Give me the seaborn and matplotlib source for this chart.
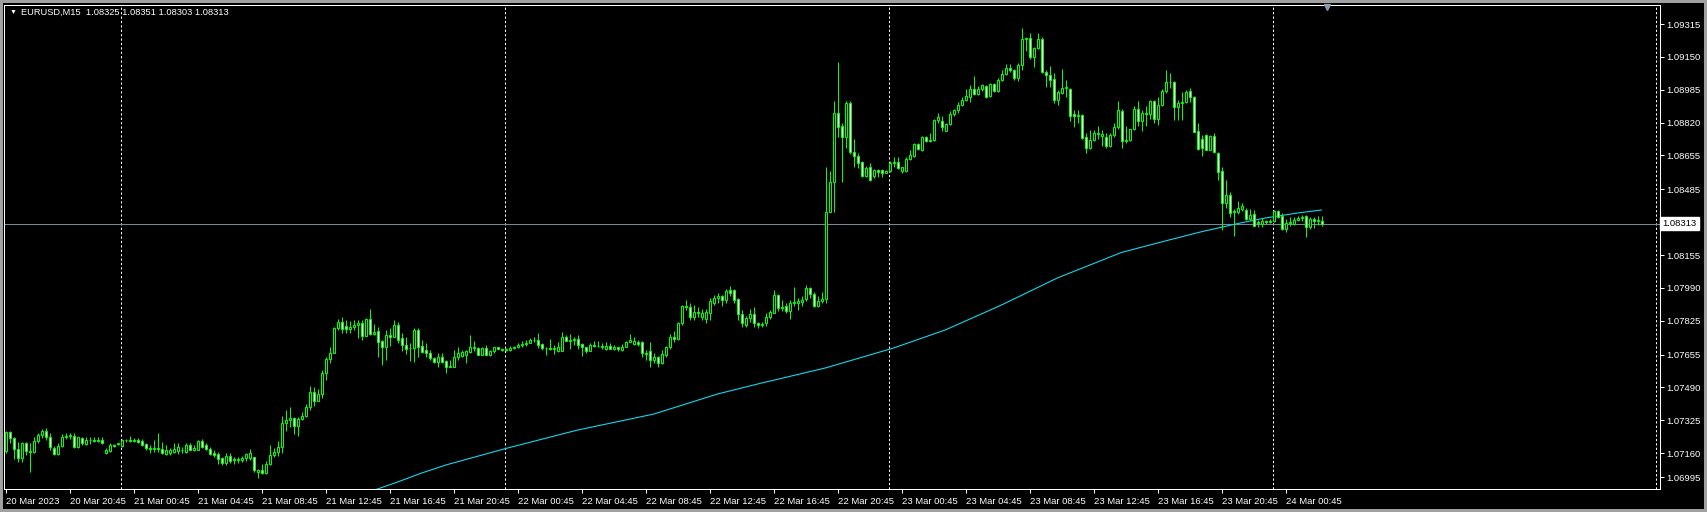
import numpy as np
import pandas as pd
import seaborn as sns
import matplotlib.pyplot as plt
from matplotlib import transforms

# EURUSD M15 bars, first bar = 20 Mar 2023 16:45
opens = [
    1.07172, 1.07267, 1.07234, 1.07183, 1.07138, 1.07209, 1.07172, 1.07167, 1.07220, 1.07250,
    1.07270, 1.07239, 1.07188, 1.07155, 1.07195, 1.07239, 1.07247, 1.07245, 1.07192, 1.07234,
    1.07205, 1.07228, 1.07225, 1.07222, 1.07226, 1.07162, 1.07172, 1.07200, 1.07205, 1.07197,
    1.07226, 1.07226, 1.07222, 1.07225, 1.07220, 1.07205, 1.07188, 1.07183, 1.07185, 1.07183,
    1.07155, 1.07162, 1.07167, 1.07172, 1.07178, 1.07167, 1.07200, 1.07178, 1.07178, 1.07222,
    1.07200, 1.07183, 1.07162, 1.07155, 1.07138, 1.07112, 1.07146, 1.07129, 1.07126, 1.07126,
    1.07136, 1.07136, 1.07139, 1.07066, 1.07073, 1.07060, 1.07106, 1.07151, 1.07168, 1.07193,
    1.07310, 1.07327, 1.07335, 1.07297, 1.07332, 1.07347, 1.07391, 1.07466, 1.07424, 1.07457,
    1.07565, 1.07632, 1.07665, 1.07787, 1.07817, 1.07799, 1.07784, 1.07792, 1.07806, 1.07816,
    1.07749, 1.07832, 1.07759, 1.07774, 1.07721, 1.07695, 1.07754, 1.07741, 1.07804, 1.07737,
    1.07704, 1.07687, 1.07687, 1.07779, 1.07698, 1.07678, 1.07662, 1.07637, 1.07620, 1.07645,
    1.07623, 1.07594, 1.07594, 1.07645, 1.07648, 1.07651, 1.07668, 1.07691, 1.07686, 1.07655,
    1.07686, 1.07651, 1.07671, 1.07691, 1.07685, 1.07678, 1.07678, 1.07688, 1.07695, 1.07703,
    1.07708, 1.07715, 1.07728, 1.07730, 1.07708, 1.07688, 1.07686, 1.07683, 1.07673, 1.07675,
    1.07742, 1.07725, 1.07730, 1.07735, 1.07708, 1.07692, 1.07675, 1.07703, 1.07698, 1.07698,
    1.07685, 1.07698, 1.07685, 1.07693, 1.07678, 1.07695, 1.07718, 1.07708, 1.07718, 1.07718,
    1.07661, 1.07671, 1.07628, 1.07645, 1.07614, 1.07651, 1.07691, 1.07745, 1.07735, 1.07812,
    1.07899, 1.07892, 1.07846, 1.07870, 1.07842, 1.07832, 1.07865, 1.07916, 1.07941, 1.07950,
    1.07930, 1.07979, 1.07979, 1.07935, 1.07860, 1.07805, 1.07839, 1.07860, 1.07815, 1.07805,
    1.07815, 1.07842, 1.07865, 1.07954, 1.07896, 1.07899, 1.07876, 1.07912, 1.07916, 1.07919,
    1.07933, 1.07988, 1.07959, 1.07901, 1.07924, 1.07933, 1.08373, 1.08520, 1.08870, 1.08803,
    1.08746, 1.08917, 1.08670, 1.08652, 1.08621, 1.08554, 1.08597, 1.08550, 1.08580, 1.08582,
    1.08569, 1.08576, 1.08619, 1.08624, 1.08578, 1.08578, 1.08636, 1.08653, 1.08712, 1.08683,
    1.08750, 1.08730, 1.08733, 1.08834, 1.08826, 1.08780, 1.08812, 1.08864, 1.08881, 1.08910,
    1.08934, 1.08951, 1.08990, 1.08965, 1.08990, 1.09005, 1.08955, 1.09015, 1.08978, 1.09035,
    1.09065, 1.09093, 1.09085, 1.09042, 1.09110, 1.09239, 1.09244, 1.09148, 1.09194, 1.09240,
    1.09075, 1.09058, 1.09038, 1.08931, 1.08968, 1.08993, 1.08989, 1.08862, 1.08851, 1.08857,
    1.08750, 1.08691, 1.08733, 1.08767, 1.08752, 1.08747, 1.08703, 1.08758, 1.08797, 1.08879,
    1.08730, 1.08735, 1.08787, 1.08887, 1.08830, 1.08867, 1.08864, 1.08926, 1.08837, 1.08909,
    1.08981, 1.09026, 1.09026, 1.08897, 1.08920, 1.08921, 1.08980, 1.08951, 1.08778, 1.08740,
    1.08757, 1.08683, 1.08753, 1.08666, 1.08578, 1.08415, 1.08454, 1.08378, 1.08371, 1.08386,
    1.08382, 1.08338, 1.08360, 1.08320, 1.08312, 1.08325, 1.08320, 1.08328, 1.08377, 1.08352,
    1.08285, 1.08318, 1.08312, 1.08331, 1.08342, 1.08350, 1.08298, 1.08335, 1.08326, 1.08325,
]
highs = [
    1.07270, 1.07270, 1.07242, 1.07217, 1.07217, 1.07217, 1.07209, 1.07239, 1.07259, 1.07279,
    1.07284, 1.07259, 1.07195, 1.07209, 1.07255, 1.07259, 1.07259, 1.07262, 1.07242, 1.07239,
    1.07239, 1.07239, 1.07242, 1.07239, 1.07239, 1.07184, 1.07209, 1.07205, 1.07212, 1.07230,
    1.07230, 1.07245, 1.07234, 1.07234, 1.07229, 1.07212, 1.07200, 1.07225, 1.07262, 1.07217,
    1.07200, 1.07188, 1.07209, 1.07209, 1.07192, 1.07209, 1.07209, 1.07200, 1.07225, 1.07229,
    1.07209, 1.07192, 1.07175, 1.07167, 1.07142, 1.07159, 1.07163, 1.07143, 1.07143, 1.07146,
    1.07163, 1.07183, 1.07143, 1.07079, 1.07106, 1.07123, 1.07201, 1.07186, 1.07223, 1.07347,
    1.07377, 1.07390, 1.07343, 1.07343, 1.07368, 1.07407, 1.07497, 1.07494, 1.07480, 1.07578,
    1.07645, 1.07695, 1.07792, 1.07834, 1.07845, 1.07829, 1.07822, 1.07829, 1.07829, 1.07829,
    1.07838, 1.07884, 1.07809, 1.07796, 1.07729, 1.07780, 1.07787, 1.07829, 1.07817, 1.07762,
    1.07745, 1.07712, 1.07787, 1.07787, 1.07729, 1.07712, 1.07678, 1.07645, 1.07662, 1.07662,
    1.07628, 1.07628, 1.07678, 1.07695, 1.07678, 1.07678, 1.07752, 1.07722, 1.07691, 1.07691,
    1.07705, 1.07678, 1.07695, 1.07695, 1.07688, 1.07688, 1.07698, 1.07698, 1.07712, 1.07722,
    1.07728, 1.07738, 1.07745, 1.07762, 1.07712, 1.07691, 1.07735, 1.07705, 1.07720, 1.07768,
    1.07755, 1.07760, 1.07745, 1.07752, 1.07712, 1.07695, 1.07712, 1.07725, 1.07725, 1.07712,
    1.07718, 1.07712, 1.07705, 1.07695, 1.07708, 1.07722, 1.07757, 1.07742, 1.07728, 1.07722,
    1.07678, 1.07718, 1.07661, 1.07648, 1.07678, 1.07700, 1.07760, 1.07775, 1.07820, 1.07905,
    1.07929, 1.07912, 1.07905, 1.07896, 1.07882, 1.07882, 1.07940, 1.07953, 1.07966, 1.07955,
    1.07983, 1.07999, 1.07983, 1.07941, 1.07879, 1.07850, 1.07882, 1.07896, 1.07820, 1.07820,
    1.07862, 1.07879, 1.07980, 1.07960, 1.07929, 1.07912, 1.07929, 1.07996, 1.07939, 1.07949,
    1.08003, 1.07996, 1.07971, 1.07949, 1.07971, 1.08599, 1.08576, 1.08927, 1.09125, 1.08817,
    1.08927, 1.08927, 1.08737, 1.08666, 1.08626, 1.08604, 1.08619, 1.08585, 1.08585, 1.08585,
    1.08580, 1.08626, 1.08646, 1.08646, 1.08599, 1.08646, 1.08683, 1.08717, 1.08717, 1.08755,
    1.08755, 1.08767, 1.08838, 1.08870, 1.08853, 1.08817, 1.08880, 1.08888, 1.08922, 1.08951,
    1.08989, 1.09011, 1.09055, 1.09003, 1.09015, 1.09011, 1.09021, 1.09018, 1.09042, 1.09085,
    1.09115, 1.09115, 1.09088, 1.09118, 1.09296, 1.09252, 1.09269, 1.09202, 1.09269, 1.09252,
    1.09085, 1.09105, 1.09068, 1.08985, 1.09088, 1.09035, 1.08993, 1.08885, 1.08884, 1.08862,
    1.08767, 1.08785, 1.08784, 1.08803, 1.08784, 1.08767, 1.08767, 1.08817, 1.08930, 1.08890,
    1.08801, 1.08790, 1.08904, 1.08927, 1.08884, 1.08901, 1.08934, 1.08934, 1.08947, 1.08988,
    1.09085, 1.09068, 1.09030, 1.08934, 1.08976, 1.08985, 1.08993, 1.08955, 1.08817, 1.08760,
    1.08762, 1.08757, 1.08767, 1.08672, 1.08596, 1.08533, 1.08469, 1.08386, 1.08424, 1.08415,
    1.08393, 1.08386, 1.08382, 1.08331, 1.08340, 1.08331, 1.08336, 1.08382, 1.08382, 1.08365,
    1.08336, 1.08348, 1.08348, 1.08353, 1.08357, 1.08357, 1.08348, 1.08348, 1.08353, 1.08351,
]
lows = [
    1.07160, 1.07209, 1.07133, 1.07117, 1.07117, 1.07150, 1.07066, 1.07159, 1.07209, 1.07234,
    1.07226, 1.07175, 1.07150, 1.07150, 1.07192, 1.07230, 1.07230, 1.07188, 1.07188, 1.07200,
    1.07200, 1.07205, 1.07217, 1.07217, 1.07205, 1.07155, 1.07167, 1.07192, 1.07203, 1.07192,
    1.07217, 1.07217, 1.07217, 1.07212, 1.07195, 1.07178, 1.07159, 1.07167, 1.07167, 1.07155,
    1.07150, 1.07150, 1.07159, 1.07155, 1.07159, 1.07162, 1.07175, 1.07172, 1.07175, 1.07188,
    1.07178, 1.07150, 1.07142, 1.07105, 1.07100, 1.07101, 1.07113, 1.07106, 1.07109, 1.07118,
    1.07120, 1.07126, 1.07063, 1.07036, 1.07053, 1.07056, 1.07100, 1.07143, 1.07146, 1.07160,
    1.07273, 1.07293, 1.07256, 1.07247, 1.07327, 1.07343, 1.07377, 1.07399, 1.07420, 1.07439,
    1.07528, 1.07611, 1.07662, 1.07779, 1.07762, 1.07762, 1.07762, 1.07776, 1.07736, 1.07726,
    1.07749, 1.07752, 1.07752, 1.07645, 1.07605, 1.07628, 1.07699, 1.07741, 1.07712, 1.07675,
    1.07658, 1.07622, 1.07618, 1.07645, 1.07662, 1.07645, 1.07628, 1.07612, 1.07595, 1.07612,
    1.07561, 1.07591, 1.07591, 1.07628, 1.07645, 1.07611, 1.07665, 1.07671, 1.07651, 1.07651,
    1.07651, 1.07648, 1.07665, 1.07681, 1.07671, 1.07671, 1.07675, 1.07683, 1.07688, 1.07691,
    1.07700, 1.07712, 1.07720, 1.07688, 1.07678, 1.07655, 1.07678, 1.07660, 1.07668, 1.07671,
    1.07721, 1.07685, 1.07705, 1.07685, 1.07650, 1.07661, 1.07671, 1.07691, 1.07691, 1.07681,
    1.07678, 1.07681, 1.07678, 1.07671, 1.07671, 1.07691, 1.07718, 1.07703, 1.07698, 1.07645,
    1.07628, 1.07595, 1.07611, 1.07591, 1.07608, 1.07645, 1.07685, 1.07720, 1.07730, 1.07805,
    1.07879, 1.07829, 1.07829, 1.07846, 1.07829, 1.07815, 1.07829, 1.07905, 1.07912, 1.07899,
    1.07912, 1.07950, 1.07916, 1.07829, 1.07794, 1.07795, 1.07820, 1.07795, 1.07790, 1.07795,
    1.07800, 1.07835, 1.07862, 1.07876, 1.07876, 1.07866, 1.07832, 1.07899, 1.07879, 1.07899,
    1.07924, 1.07941, 1.07892, 1.07892, 1.07912, 1.07916, 1.08373, 1.08373, 1.08750, 1.08524,
    1.08692, 1.08662, 1.08599, 1.08592, 1.08549, 1.08549, 1.08529, 1.08544, 1.08547, 1.08547,
    1.08565, 1.08572, 1.08599, 1.08589, 1.08566, 1.08572, 1.08633, 1.08646, 1.08681, 1.08676,
    1.08722, 1.08722, 1.08728, 1.08820, 1.08780, 1.08776, 1.08809, 1.08853, 1.08867, 1.08901,
    1.08929, 1.08925, 1.08960, 1.08960, 1.08981, 1.08944, 1.08948, 1.08975, 1.08975, 1.09028,
    1.09058, 1.09075, 1.09035, 1.09028, 1.09085, 1.09178, 1.09140, 1.09098, 1.09190, 1.09068,
    1.09001, 1.09001, 1.08918, 1.08906, 1.08965, 1.08951, 1.08826, 1.08800, 1.08820, 1.08740,
    1.08666, 1.08686, 1.08730, 1.08740, 1.08700, 1.08693, 1.08696, 1.08747, 1.08790, 1.08690,
    1.08720, 1.08728, 1.08785, 1.08804, 1.08776, 1.08801, 1.08837, 1.08817, 1.08810, 1.08901,
    1.08968, 1.08995, 1.08834, 1.08834, 1.08834, 1.08917, 1.08921, 1.08775, 1.08680, 1.08650,
    1.08680, 1.08680, 1.08666, 1.08534, 1.08281, 1.08390, 1.08348, 1.08248, 1.08360, 1.08378,
    1.08331, 1.08331, 1.08300, 1.08298, 1.08298, 1.08312, 1.08315, 1.08323, 1.08343, 1.08282,
    1.08270, 1.08303, 1.08306, 1.08326, 1.08328, 1.08243, 1.08285, 1.08293, 1.08306, 1.08303,
]
closes = [
    1.07267, 1.07234, 1.07183, 1.07138, 1.07209, 1.07172, 1.07167, 1.07220, 1.07250, 1.07270,
    1.07239, 1.07192, 1.07155, 1.07195, 1.07239, 1.07247, 1.07250, 1.07192, 1.07239, 1.07209,
    1.07228, 1.07225, 1.07222, 1.07226, 1.07209, 1.07175, 1.07200, 1.07197, 1.07209, 1.07226,
    1.07226, 1.07222, 1.07225, 1.07217, 1.07200, 1.07188, 1.07183, 1.07185, 1.07182, 1.07159,
    1.07175, 1.07178, 1.07183, 1.07192, 1.07175, 1.07200, 1.07178, 1.07188, 1.07222, 1.07192,
    1.07183, 1.07155, 1.07150, 1.07133, 1.07112, 1.07146, 1.07123, 1.07126, 1.07131, 1.07138,
    1.07156, 1.07159, 1.07076, 1.07073, 1.07060, 1.07106, 1.07151, 1.07168, 1.07193, 1.07310,
    1.07327, 1.07335, 1.07297, 1.07332, 1.07347, 1.07391, 1.07466, 1.07424, 1.07457, 1.07565,
    1.07632, 1.07665, 1.07787, 1.07817, 1.07784, 1.07784, 1.07792, 1.07806, 1.07816, 1.07749,
    1.07832, 1.07759, 1.07766, 1.07716, 1.07695, 1.07754, 1.07741, 1.07804, 1.07729, 1.07701,
    1.07684, 1.07687, 1.07779, 1.07695, 1.07670, 1.07662, 1.07637, 1.07620, 1.07645, 1.07620,
    1.07594, 1.07597, 1.07645, 1.07665, 1.07668, 1.07671, 1.07691, 1.07688, 1.07655, 1.07686,
    1.07655, 1.07671, 1.07691, 1.07685, 1.07678, 1.07683, 1.07688, 1.07695, 1.07703, 1.07708,
    1.07715, 1.07728, 1.07730, 1.07705, 1.07686, 1.07686, 1.07683, 1.07688, 1.07691, 1.07742,
    1.07725, 1.07730, 1.07735, 1.07705, 1.07692, 1.07675, 1.07703, 1.07698, 1.07698, 1.07695,
    1.07698, 1.07685, 1.07693, 1.07685, 1.07695, 1.07718, 1.07728, 1.07722, 1.07708, 1.07661,
    1.07658, 1.07628, 1.07645, 1.07614, 1.07658, 1.07691, 1.07745, 1.07735, 1.07812, 1.07899,
    1.07896, 1.07846, 1.07870, 1.07865, 1.07862, 1.07871, 1.07924, 1.07941, 1.07949, 1.07930,
    1.07976, 1.07966, 1.07930, 1.07860, 1.07812, 1.07839, 1.07859, 1.07815, 1.07805, 1.07810,
    1.07842, 1.07871, 1.07954, 1.07887, 1.07887, 1.07876, 1.07912, 1.07919, 1.07924, 1.07929,
    1.07988, 1.07959, 1.07901, 1.07924, 1.07933, 1.08373, 1.08520, 1.08870, 1.08800, 1.08750,
    1.08917, 1.08670, 1.08650, 1.08619, 1.08554, 1.08594, 1.08534, 1.08582, 1.08572, 1.08569,
    1.08576, 1.08619, 1.08621, 1.08594, 1.08596, 1.08636, 1.08658, 1.08712, 1.08685, 1.08750,
    1.08730, 1.08733, 1.08834, 1.08846, 1.08797, 1.08812, 1.08864, 1.08884, 1.08910, 1.08934,
    1.08954, 1.08989, 1.08965, 1.08990, 1.09009, 1.08951, 1.09015, 1.08978, 1.09035, 1.09065,
    1.09093, 1.09085, 1.09042, 1.09110, 1.09239, 1.09244, 1.09148, 1.09194, 1.09240, 1.09072,
    1.09058, 1.09035, 1.08931, 1.08973, 1.08993, 1.09000, 1.08855, 1.08851, 1.08857, 1.08745,
    1.08691, 1.08733, 1.08767, 1.08762, 1.08762, 1.08703, 1.08758, 1.08797, 1.08884, 1.08730,
    1.08735, 1.08787, 1.08887, 1.08830, 1.08867, 1.08864, 1.08926, 1.08837, 1.08909, 1.08981,
    1.09026, 1.09026, 1.08897, 1.08920, 1.08921, 1.08976, 1.08951, 1.08775, 1.08688, 1.08690,
    1.08683, 1.08753, 1.08670, 1.08574, 1.08415, 1.08457, 1.08365, 1.08371, 1.08391, 1.08402,
    1.08338, 1.08356, 1.08303, 1.08318, 1.08325, 1.08320, 1.08326, 1.08377, 1.08348, 1.08285,
    1.08318, 1.08320, 1.08331, 1.08342, 1.08345, 1.08298, 1.08335, 1.08326, 1.08331, 1.08313,
]

# moving average readings (bar index, price)
ma_bar = [90, 93, 98, 104, 110, 125, 143, 162, 178, 189, 205, 222, 235, 249, 263, 279,
          291, 299, 309, 315, 323, 329]
ma_val = [1.06965, 1.06980, 1.07015, 1.07060, 1.07100, 1.07183, 1.07276, 1.07356, 1.07457,
          1.07512, 1.07588, 1.07688, 1.07779, 1.07904, 1.08040, 1.08168, 1.08231, 1.08272,
          1.08317, 1.08341, 1.08366, 1.08381]

x_labels = ["20 Mar 2023", "20 Mar 20:45", "21 Mar 00:45", "21 Mar 04:45", "21 Mar 08:45",
            "21 Mar 12:45", "21 Mar 16:45", "21 Mar 20:45", "22 Mar 00:45", "22 Mar 04:45",
            "22 Mar 08:45", "22 Mar 12:45", "22 Mar 16:45", "22 Mar 20:45", "23 Mar 00:45",
            "23 Mar 04:45", "23 Mar 08:45", "23 Mar 12:45", "23 Mar 16:45", "23 Mar 20:45",
            "24 Mar 00:45"]
y_labels = ["1.09315", "1.09150", "1.08985", "1.08820", "1.08655", "1.08485", "1.08155",
            "1.07990", "1.07825", "1.07655", "1.07490", "1.07325", "1.07160", "1.06995"]
day_bars = [29, 125, 221, 317]   # midnight separators
last_price = 1.08313
header = "EURUSD,M15  1.08325 1.08351 1.08303 1.08313"

df = pd.DataFrame({"open": opens, "high": highs, "low": lows, "close": closes})
df["bar"] = np.arange(len(df))
df["bear"] = df["close"] < df["open"]

sns.set_theme(style="dark")
plt.rcParams["font.family"] = ["Liberation Sans", "DejaVu Sans"]

green = "#00ff00"
px = 0.72  # one pixel in points at dpi 100
W, H = 1707, 512
fig = plt.figure(figsize=(W / 100, H / 100), dpi=100, facecolor="black",
                 edgecolor="#a0a0a0", linewidth=3)
# left edge at 4 px so bar centres fall on pixel centres
ax = fig.add_axes([4 / W, 23 / H, 1655.5 / W, 484.3 / H])
ax.set_facecolor("black")
ax.grid(False)

for b in day_bars:
    ax.axvline(b - 0.125, color="white", lw=px, ls=(0, (2.2, 2.2)), zorder=1)
ax.axvline(412.6, color="white", lw=px, ls=(0, (2.2, 2.2)), zorder=1)
ax.axhline(last_price, color="#778899", lw=px, zorder=2)

sns.lineplot(x=ma_bar, y=ma_val, ax=ax, color="#0fd8ec", lw=0.8, zorder=3)

ax.vlines(df["bar"], df["low"], df["high"], color=green, lw=px, zorder=4)
body_bottom = df[["open", "close"]].min(axis=1)
body_height = (df["open"] - df["close"]).abs()
ax.bar(df["bar"], body_height, bottom=body_bottom, width=0.5,
       color=np.where(df["bear"], "white", "black"), edgecolor=green,
       linewidth=px, zorder=5)

ax.set_xlim(-0.375, 413.5)
ax.set_ylim(1.06980, 1.09412)

ax.set_xticks(np.arange(len(x_labels)) * 16)
ax.set_xticklabels(x_labels, ha="left")
ytick_pos = [float(s) for s in y_labels]
ytick_pos[-1] = 1.07040  # MT4 pushes the bottom label up to stay inside
ax.yaxis.tick_right()
ax.set_yticks(ytick_pos)
ax.set_yticklabels(y_labels)
ax.tick_params(axis="both", colors="white", labelcolor="white", labelsize=6.8,
               length=3, width=px, direction="out")
ax.tick_params(axis="x", bottom=True, pad=3)
ax.tick_params(axis="y", right=True, left=False, pad=2)
ax.set_xlabel("")
ax.set_ylabel("")
for s in ax.spines.values():
    s.set_color("white")
    s.set_linewidth(px)

# current price tag on the price scale
tr = transforms.blended_transform_factory(ax.transAxes, ax.transData)
ax.text(1 + 3 / 1655.5, last_price, "1.08313", transform=tr, ha="left", va="center",
        fontsize=6.8, color="black",
        bbox=dict(boxstyle="square,pad=0.25", fc="white", ec="white"))

# chart shift marker
tr2 = transforms.blended_transform_factory(ax.transData, ax.transAxes)
ax.plot([330.3], [0.995], marker="v", ms=5, color="#8a9aaa", transform=tr2,
        clip_on=False, zorder=6)

fig.text(10 / W, 1 - 12.5 / H, "\u25bc", color="white", fontsize=5, va="center")
fig.text(21 / W, 1 - 12.5 / H, header, color="white", fontsize=6.7, va="center")

fig.savefig("out.png", dpi=100)
